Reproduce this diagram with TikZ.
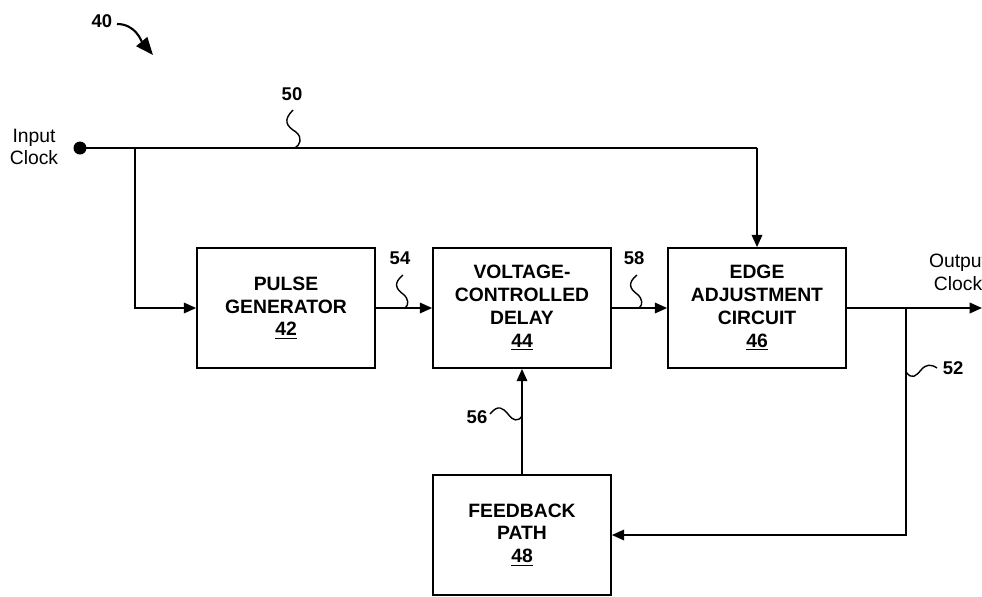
\documentclass[tikz,border=0pt]{standalone}
\usepackage{fontspec}
\setmainfont{Liberation Sans}
\usetikzlibrary{arrows.meta}
\tikzset{
    block/.style={
        rectangle,
        draw,
        line width=1pt,
        minimum width=3.56cm,
        minimum height=2.4cm,
        inner sep=0pt,
        align=center,
        font=\bfseries\fontsize{11}{13}\selectfont
    },
    wire/.style={
        line width=1pt
    },
    sig/.style={
        wire,
        -{Triangle[length=7pt,width=6pt]}
    },
    refnum/.style={
        font=\bfseries\fontsize{10.5}{12}\selectfont
    },
    lead/.style={
        line width=0.8pt
    },
    pinlabel/.style={
        align=center,
        font=\fontsize{11}{13}\selectfont
    }
}

\begin{document}
\begin{tikzpicture}[x=0.02cm, y=0.02cm]
    \useasboundingbox (0,0) rectangle (982,-596);

    \node[block] (pulse) at (286,-308) {PULSE\\GENERATOR\\\underline{42}};
    \node[block] (vcd) at (522,-308) {VOLTAGE-\\CONTROLLED\\DELAY\\\underline{44}};
    \node[block] (edge) at (757,-308) {EDGE\\ADJUSTMENT\\CIRCUIT\\\underline{46}};
    \node[block] (fb) at (522,-535) {FEEDBACK\\PATH\\\underline{48}};

    \node[pinlabel] (inclk) at (34,-147) {Input\\Clock};
    \node[pinlabel] (outclk) at (958,-272) {Output\\Clock};
    \fill (80,-148) circle (6.5) coordinate (indot);

    \coordinate (intap) at (135,-148);
    \coordinate (topcorner) at (757,-148);
    \coordinate (outtap) at (906,-308);
    \coordinate (outend) at (982,-308);

    % clock path
    \draw[wire] (indot) -- (topcorner);
    \draw[sig] (topcorner) -- (edge.north);
    \draw[sig] (intap) |- (pulse.west);
    \draw[sig] (pulse.east) -- (vcd.west);
    \draw[sig] (vcd.east) -- (edge.west);
    \draw[sig] (edge.east) -- (outend);

    % feedback loop
    \draw[sig] (outtap) |- (fb.east);
    \draw[sig] (fb.north) -- (vcd.south);

    % reference numerals
    \node[refnum] (n40) at (102,-21) {40};
    \node[refnum] (n50) at (292,-94) {50};
    \node[refnum] (n54) at (400,-258) {54};
    \node[refnum] (n58) at (634,-258) {58};
    \node[refnum] (n56) at (477,-417) {56};
    \node[refnum] (n52) at (953,-368) {52};

    \draw[line width=1.2pt, -{Triangle[length=10pt,width=8pt]}] (117,-24) to[out=0, in=130] (153,-55);
    \draw[lead] (293,-110) .. controls (283,-120) and (286,-126) .. (296,-132) .. controls (303,-138) and (300,-145) .. (295,-148);
    \draw[lead] (403,-275) .. controls (393,-283) and (396,-289) .. (403,-294) .. controls (409,-299) and (409,-305) .. (405,-308);
    \draw[lead] (637,-275) .. controls (627,-283) and (630,-289) .. (637,-294) .. controls (643,-299) and (643,-305) .. (639,-308);
    \draw[lead] (490,-414) .. controls (498,-404) and (503,-408) .. (508,-414) .. controls (513,-421) and (518,-422) .. (522,-416);
    \draw[lead] (906,-372) .. controls (912,-380) and (916,-376) .. (921,-370) .. controls (926,-364) and (931,-364) .. (937,-368);
\end{tikzpicture}
\end{document}
